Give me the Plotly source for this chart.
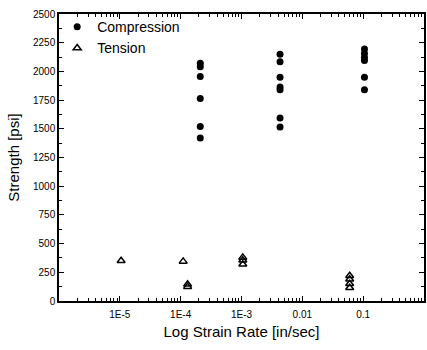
import plotly.graph_objects as go

# Compression data
comp_x = [2.1e-4]*6 + [4.3e-3]*7 + [0.105]*6
comp_y = [2070, 2040, 1955, 1765, 1520, 1420,
          2150, 2085, 1950, 1865, 1840, 1595, 1515,
          2195, 2155, 2120, 2095, 1950, 1840]

# Tension data
ten_x = [1.05e-5, 1.1e-4, 1.3e-4, 1.3e-4, 1.05e-3, 1.05e-3, 1.05e-3, 0.06, 0.06, 0.06, 0.06]
ten_y = [350, 345, 145, 125, 380, 355, 320, 220, 190, 150, 115]

xtick_vals = [1e-5, 1e-4, 1e-3, 0.01, 0.1]
xtick_text = ["1E-5", "1E-4", "1E-3", "0.01", "0.1"]
ytick_vals = list(range(0, 2501, 250))

font = "Liberation Sans, Arial, sans-serif"

fig = go.Figure()
fig.add_trace(go.Scatter(x=comp_x, y=comp_y, mode="markers", name="Compression",
                         marker=dict(symbol="circle", size=7, color="black")))
fig.add_trace(go.Scatter(x=ten_x, y=ten_y, mode="markers", name="Tension",
                         marker=dict(symbol="triangle-up-open", size=7, color="black",
                                     line=dict(width=1.5, color="black"))))

fig.update_layout(
    width=427, height=350,
    margin=dict(l=59, r=1, t=14, b=49),
    paper_bgcolor="white", plot_bgcolor="white",
    font=dict(family=font, color="black", size=10),
    showlegend=True,
    legend=dict(x=-0.005, y=1.01, xanchor="left", yanchor="top",
                bgcolor="rgba(0,0,0,0)", font=dict(size=14),
                tracegroupgap=0, itemsizing="trace"),
)
fig.update_xaxes(
    type="log", range=[-6, 0],
    tickvals=xtick_vals, ticktext=xtick_text,
    ticks="inside", ticklen=5, tickwidth=1, tickcolor="black",
    showline=True, linecolor="black", linewidth=1.5, mirror="ticks",
    showgrid=False, zeroline=False,
    minor=dict(ticks="inside", ticklen=3, tickcolor="black", dtick="D1", showgrid=False),
    title=dict(text="Log Strain Rate [in/sec]", font=dict(size=15), standoff=8),
    tickfont=dict(size=10), ticklabelstandoff=3,
)
fig.update_yaxes(
    range=[0, 2500], tickvals=ytick_vals,
    ticks="inside", ticklen=5, tickwidth=1, tickcolor="black",
    showline=True, linecolor="black", linewidth=1.5, mirror="ticks",
    showgrid=False, zeroline=False,
    minor=dict(ticks="inside", ticklen=3, tickcolor="black", dtick=125, showgrid=False),
    title=dict(text="Strength [psi]", font=dict(size=15), standoff=10),
    tickfont=dict(size=10),
)

fig.write_html("out.html")
